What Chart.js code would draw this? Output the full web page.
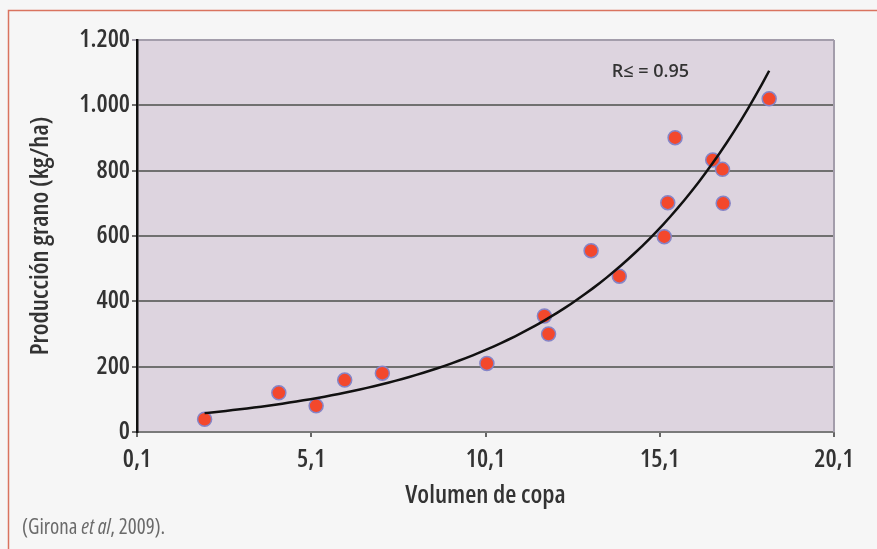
<!DOCTYPE html>
<html>
<head>
<meta charset="utf-8">
<script src="https://cdn.jsdelivr.net/npm/chart.js@4.4.1/dist/chart.umd.min.js"></script>
<style>
  html, body { margin: 0; padding: 0; background: #f6f6f6; }
  #wrap { width: 877px; height: 549px; position: relative; }
</style>
</head>
<body>
<div id="wrap"><canvas id="c" width="877" height="549"></canvas></div>
<script>
// ---- data ----
const volumenCopa = [2.04, 4.17, 5.24, 6.06, 7.14, 10.14, 11.79, 11.91, 13.13, 13.94, 15.23, 15.33, 15.54, 16.62, 16.90, 16.92, 18.24];
const produccion  = [39, 120, 80, 159, 180, 210, 355, 300, 555, 477, 598, 702, 901, 833, 804, 700, 1020];
const xTickValues = [0.1, 5.1, 10.1, 15.1, 20.1];
const xTickLabels = ['0,1', '5,1', '10,1', '15,1', '20,1'];
const yTickValues = [0, 200, 400, 600, 800, 1000, 1200];
const yTickLabels = ['0', '200', '400', '600', '800', '1.000', '1.200'];
const xTitle = 'Volumen de copa';
const yTitle = 'Producción grano (kg/ha)';
const r2Label = 'R≤ = 0.95';
const citeA = '(Girona ', citeB = 'et al', citeC = ', 2009).';

// exponential trendline (least squares on ln y), like a spreadsheet trendline
const n = volumenCopa.length;
let sx = 0, sy = 0, sxx = 0, sxy = 0;
for (let i = 0; i < n; i++) {
  const lx = volumenCopa[i], ly = Math.log(produccion[i]);
  sx += lx; sy += ly; sxx += lx * lx; sxy += lx * ly;
}
const b = (n * sxy - sx * sy) / (n * sxx - sx * sx);
const a = Math.exp((sy - b * sx) / n);
const xMin = Math.min(...volumenCopa), xMax = Math.max(...volumenCopa);
const trend = [];
for (let k = 0; k <= 80; k++) {
  const x = xMin + (xMax - xMin) * k / 80;
  trend.push({ x: x, y: a * Math.exp(b * x) });
}

const FONT = '"Open Sans", sans-serif';

const decor = {
  id: 'decor',
  beforeDraw(chart) {
    const { ctx, chartArea: ca } = chart;
    ctx.save();
    ctx.fillStyle = '#f6f6f6';
    ctx.fillRect(0, 0, chart.width, chart.height);
    // frame
    ctx.strokeStyle = '#d9735f';
    ctx.lineWidth = 1.5;
    ctx.beginPath();
    ctx.moveTo(877, 10.5); ctx.lineTo(8.5, 10.5); ctx.lineTo(8.5, 549);
    ctx.stroke();
    // plot area
    ctx.fillStyle = '#ddd4df';
    ctx.fillRect(ca.left, ca.top, ca.right - ca.left, ca.bottom - ca.top);
    ctx.restore();
  },
  afterDraw(chart) {
    const { ctx, chartArea: ca } = chart;
    ctx.save();
    // right border of plot area
    ctx.strokeStyle = '#a39dab';
    ctx.lineWidth = 2;
    ctx.beginPath();
    ctx.moveTo(ca.right, ca.top); ctx.lineTo(ca.right, ca.bottom);
    ctx.stroke();
    // R² label
    const xs = chart.scales.x, ys = chart.scales.y;
    ctx.fillStyle = '#333333';
    ctx.font = '600 18px ' + FONT;
    ctx.textAlign = 'center';
    ctx.textBaseline = 'middle';
    ctx.fillText(r2Label, xs.getPixelForValue(14.83), ys.getPixelForValue(1102));
    // citation
    ctx.textAlign = 'left';
    ctx.textBaseline = 'alphabetic';
    ctx.fillStyle = '#6a6a6a';
    let x = 22;
    const y = 534;
    ctx.font = '400 condensed 21px ' + FONT;
    ctx.fillText(citeA, x, y); x += ctx.measureText(citeA).width;
    ctx.font = 'italic 400 condensed 21px ' + FONT;
    ctx.fillText(citeB, x, y); x += ctx.measureText(citeB).width;
    ctx.font = '400 condensed 21px ' + FONT;
    ctx.fillText(citeC, x, y);
    ctx.restore();
  }
};

const tickFont = { family: FONT, size: 25, weight: '600 condensed' };
const titleFont = { family: FONT, size: 25.5, weight: '600 condensed' };

new Chart(document.getElementById('c'), {
  type: 'scatter',
  data: {
    datasets: [
      {
        type: 'line',
        data: trend,
        borderColor: '#111111',
        borderWidth: 2.5,
        pointRadius: 0,
        fill: false,
        tension: 0,
        order: 0
      },
      {
        data: volumenCopa.map((v, i) => ({ x: v, y: produccion[i] })),
        backgroundColor: '#f3482c',
        borderColor: '#8585c8',
        borderWidth: 1.5,
        pointRadius: 7,
        order: 1
      }
    ]
  },
  options: {
    responsive: false,
    animation: false,
    devicePixelRatio: 1,
    layout: { padding: { top: 40, right: 43, bottom: 0, left: 0 } },
    plugins: { legend: { display: false }, tooltip: { enabled: false } },
    scales: {
      x: {
        type: 'linear',
        min: 0.1, max: 20.1,
        afterBuildTicks: s => { s.ticks = xTickValues.map(v => ({ value: v })); },
        afterFit: s => { s.height = 549 - 432; },
        ticks: {
          callback: (v, i) => xTickLabels[i],
          color: '#333333',
          font: tickFont,
          padding: 8,
          maxRotation: 0
        },
        grid: { drawOnChartArea: false, drawTicks: true, tickLength: 5, color: '#666666', lineWidth: 2 },
        border: { display: true, color: '#7a7a7a', width: 2 },
        title: {
          display: true, text: xTitle, color: '#333333',
          font: titleFont,
          padding: { top: 0, bottom: 38 }
        }
      },
      y: {
        min: 0, max: 1200,
        afterBuildTicks: s => { s.ticks = yTickValues.map(v => ({ value: v })); },
        afterFit: s => { s.width = 137; },
        ticks: {
          callback: (v, i) => yTickLabels[i],
          color: '#333333',
          font: tickFont,
          padding: 2
        },
        grid: {
          color: c => (c.tick && c.tick.value === 1200) ? '#a39dab' : '#707070',
          lineWidth: 2,
          tickLength: 5
        },
        border: { display: true, color: '#111111', width: 2.5 },
        title: {
          display: true, text: yTitle, color: '#333333',
          font: titleFont,
          padding: { top: 25, bottom: 0 }
        }
      }
    }
  },
  plugins: [decor]
});
</script>
</body>
</html>
